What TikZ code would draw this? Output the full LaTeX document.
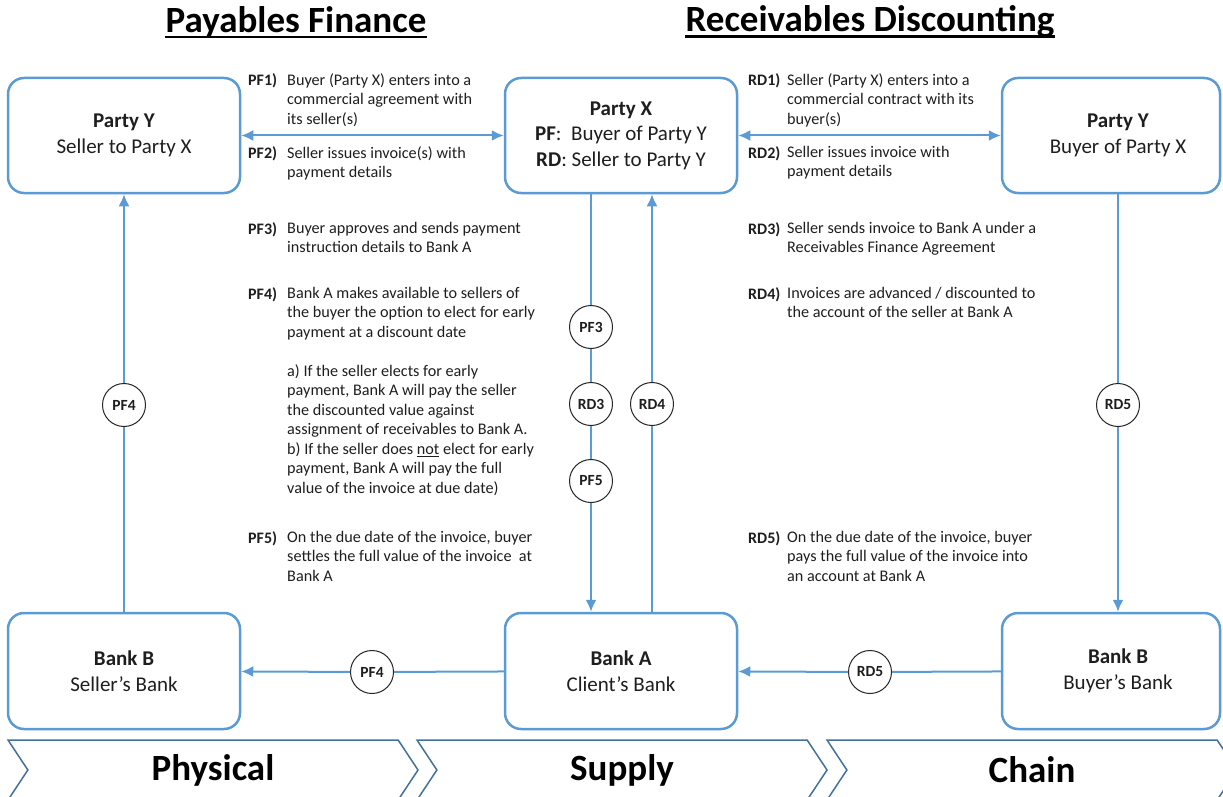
\documentclass[tikz,border=0pt]{standalone}
\usepackage{fontspec}
\setmainfont{Carlito}
\usetikzlibrary{arrows.meta,shapes.symbols}
\definecolor{boxblue}{RGB}{91,155,213}
\definecolor{chevblue}{RGB}{65,113,156}
\definecolor{inkgray}{RGB}{30,30,30}
\tikzset{
  >={Latex[length=12pt,width=11pt]},
  {party/.style} ={draw=boxblue, line width=2.5pt, rounded corners=16pt,
                   minimum width=232pt, minimum height=115pt, align=center,
                   text=inkgray, font=\fontsize{21}{25.5}\selectfont},
  {step circle/.style} ={circle, draw=black!85, line width=1pt, fill=white,
                   minimum size=43pt, inner sep=0, text=inkgray,
                   font=\bfseries\fontsize{15.5}{15.5}\selectfont},
  {flow/.style} ={draw=boxblue, line width=2pt},
  {tag/.style} ={anchor=north west, inner sep=0, text=inkgray,
                 font=\bfseries\fontsize{16}{19.5}\selectfont},
  {note/.style} ={anchor=north west, inner sep=0, align=left, text=inkgray,
                  font=\fontsize{16.2}{19.5}\selectfont},
  {heading/.style} ={inner sep=0, font=\bfseries\fontsize{37}{40}\selectfont},
  {chevron/.style} ={signal, signal to=east, signal from=west,
                     signal pointer angle=113, draw=chevblue, line width=1.5pt,
                     minimum width=410pt, minimum height=60pt, inner sep=0,
                     font=\bfseries\fontsize{37}{40}\selectfont},
}

\begin{document}
\begin{tikzpicture}[x=1pt,y=-1pt]
\clip (0,0) rectangle (1223,797);
% headings
\node[heading] (hpf) at (296,22) {Payables Finance};
\node[heading] (hrd) at (870,22) {Receivables Discounting};
\draw[line width=2.8pt] ([yshift=-5pt]hpf.base west) -- ([yshift=-5pt]hpf.base east);
\draw[line width=2.8pt] ([yshift=-5pt]hrd.base west) -- ([yshift=-5pt]hrd.base east);

% parties and banks
\node[party] (partyL) at (124,135.5) {\textbf{Party Y}\\Seller to Party X};
\node[party] (partyX) at (621,135.5) {\textbf{Party X}\\\textbf{PF}:\ \ Buyer of Party Y\\\textbf{RD}: Seller to Party Y};
\node[party, minimum width=218pt] (partyR) at (1111,135.5) {\hspace*{14pt}\textbf{Party Y}\\\hspace*{14pt}Buyer of Party X};
\node[party, minimum height=116pt] (bankL) at (124,671) {\textbf{Bank B}\\Seller's Bank};
\node[party, minimum height=116pt] (bankA) at (621,671) {\textbf{Bank A}\\Client's Bank};
\node[party, minimum width=218pt, minimum height=116pt] (bankR) at (1111,671) {\hspace*{14pt}\textbf{Bank B}\\\hspace*{14pt}Buyer's Bank};

% step markers
\node[step circle] (pf4a) at (124,405) {PF4};
\node[step circle] (pf3) at (591,327) {PF3};
\node[step circle] (rd3) at (591,404) {RD3};
\node[step circle] (pf5) at (591,481) {PF5};
\node[step circle] (rd4) at (652,404) {RD4};
\node[step circle] (rd5a) at (1118,405) {RD5};
\node[step circle] (pf4b) at (372,672) {PF4};
\node[step circle] (rd5b) at (870,672) {RD5};

% flows
\draw[flow,<->] (partyL) -- (partyX);
\draw[flow,<->] (partyX) -- (partyR);
\draw[flow,->] (bankL) -- (pf4a) -- (partyL);
\draw[flow,->] (partyX.south -| pf3) -- (pf3) -- (rd3) -- (pf5) -- (bankA.north -| pf5);
\draw[flow,->] (bankA.north -| rd4) -- (rd4) -- (partyX.south -| rd4);
\draw[flow,->] (partyR.south -| rd5a) -- (rd5a) -- (bankR.north -| rd5a);
\draw[flow,->] (bankA) -- (pf4b) -- (bankL);
\draw[flow,->] (bankR) -- (rd5b) -- (bankA);

% payables finance steps
\node[tag] (tpf1) at (248,73) {PF1)};
\node[note] (npf1) at (287,73) {Buyer (Party X) enters into a\\commercial agreement with\\its seller(s)};
\node[tag] (tpf2) at (248,146) {PF2)};
\node[note] (npf2) at (287,146) {Seller issues invoice(s) with\\payment details};
\node[tag] (tpf3) at (248,222) {PF3)};
\node[note] (npf3) at (287,222) {Buyer approves and sends payment\\instruction details to Bank A};
\node[tag] (tpf4) at (248,287) {PF4)};
\node[note] (npf4) at (287,287) {Bank A makes available to sellers of\\the buyer the option to elect for early\\payment at a discount date\\[19.5pt]
  a) If the seller elects for early\\payment, Bank A will pay the seller\\the discounted value against\\assignment of receivables to Bank A.\\
  b) If the seller does \underline{not} elect for early\\payment, Bank A will pay the full\\value of the invoice at due date)};
\node[tag] (tpf5) at (248,531) {PF5)};
\node[note] (npf5) at (287,531) {On the due date of the invoice, buyer\\settles the full value of the invoice\ \ at\\Bank A};

% receivables discounting steps
\node[tag] (trd1) at (748,73) {RD1)};
\node[note] (nrd1) at (787,73) {Seller (Party X) enters into a\\commercial contract with its\\buyer(s)};
\node[tag] (trd2) at (748,146) {RD2)};
\node[note] (nrd2) at (787,146) {Seller issues invoice with\\payment details};
\node[tag] (trd3) at (748,222) {RD3)};
\node[note] (nrd3) at (787,222) {Seller sends invoice to Bank A under a\\Receivables Finance Agreement};
\node[tag] (trd4) at (748,287) {RD4)};
\node[note] (nrd4) at (787,287) {Invoices are advanced / discounted to\\the account of the seller at Bank A};
\node[tag] (trd5) at (748,531) {RD5)};
\node[note] (nrd5) at (787,531) {On the due date of the invoice, buyer\\pays the full value of the invoice into\\an account at Bank A};

% supply chain band
\node[chevron] (physical) at (213,770) {Physical};
\node[chevron] (supply) at (622,770) {Supply};
\node[chevron] (chain) at (1032,770) {Chain};
\end{tikzpicture}
\end{document}
